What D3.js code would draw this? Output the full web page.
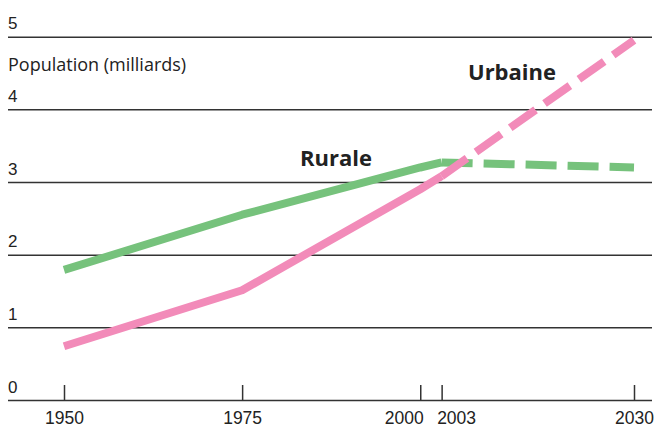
<!DOCTYPE html>
<html>
<head>
<meta charset="utf-8">
<script src="https://cdn.jsdelivr.net/npm/d3@7"></script>
<style>
  body { margin: 0; background: #fff; }
  svg { display: block; font-family: "Open Sans", "Lato", sans-serif; }
</style>
</head>
<body>
<div id="chart"></div>
<script>
// Data
const years = [1950, 1975, 2000, 2003];
const rural = [1.79, 2.55, 3.2, 3.27];
const urban = [0.74, 1.51, 2.9, 3.08];

const projYears = [2003, 2030];
const ruralProj = [3.27, 3.2];
const urbanProj = [3.08, 4.95];

const xTicks = [1950, 1975, 2000, 2003, 2030];
const yTicks = [0, 1, 2, 3, 4, 5];

const width = 657, height = 428;

const svg = d3.select("#chart")
    .append("svg")
    .attr("width", width)
    .attr("height", height);

const x = d3.scaleLinear().domain([1950, 2030]).range([64, 634]);
const y = d3.scaleLinear().domain([0, 5]).range([400, 36.7]);

// Horizontal gridlines with labels sitting on them
const yAxis = svg.append("g")
    .attr("transform", "translate(8,0)")
    .call(d3.axisRight(y).tickValues(yTicks).tickSize(644).tickFormat(d3.format("d")));

yAxis.select(".domain").remove();
yAxis.selectAll(".tick line")
    .attr("stroke", "#333")
    .attr("stroke-width", 1.5);
yAxis.selectAll(".tick text")
    .attr("x", 0)
    .attr("dy", -8)
    .attr("text-anchor", "start")
    .style("font-size", "17px")
    .style("fill", "#222");

// Year ticks (upward) with labels under the baseline
const xAxis = svg.append("g")
    .attr("transform", "translate(0,400)")
    .call(d3.axisBottom(x).tickValues(xTicks).tickSize(-15).tickPadding(12).tickFormat(d3.format("d")));

xAxis.select(".domain").remove();
xAxis.selectAll(".tick line")
    .attr("stroke", "#333")
    .attr("stroke-width", 1.5);
// 2000 and 2003 sit close together: push them apart
xAxis.selectAll(".tick text")
    .style("font-size", "17.5px")
    .style("fill", "#222")
    .attr("text-anchor", d => d === 2000 ? "end" : d === 2003 ? "start" : "middle")
    .attr("x", d => d === 2000 ? 3 : d === 2003 ? -5 : 0);

// Axis title
svg.append("text")
    .attr("x", 8)
    .attr("y", 71)
    .style("font-size", "18px")
    .style("fill", "#222")
    .text("Population (milliards)");

const line = d3.line()
    .x(d => x(d[0]))
    .y(d => y(d[1]));

const green = "#76c27c";
const pink = "#f28bb9";

function drawSeries(xs, ys, color, dashed) {
    svg.append("path")
        .datum(xs.map((d, i) => [d, ys[i]]))
        .attr("d", line)
        .attr("fill", "none")
        .attr("stroke", color)
        .attr("stroke-width", 8)
        .attr("stroke-linejoin", "round")
        .attr("stroke-dasharray", dashed ? "31,11" : null);
}

drawSeries(years, rural, green, false);
drawSeries(projYears, ruralProj, green, true);
drawSeries(years, urban, pink, false);
drawSeries(projYears, urbanProj, pink, true);

// Series labels
svg.append("text")
    .attr("x", 300)
    .attr("y", 166)
    .style("font-size", "22px")
    .style("font-weight", "bold")
    .style("fill", "#222")
    .text("Rurale");

svg.append("text")
    .attr("x", 468)
    .attr("y", 80)
    .style("font-size", "22px")
    .style("font-weight", "bold")
    .style("fill", "#222")
    .text("Urbaine");
</script>
</body>
</html>
